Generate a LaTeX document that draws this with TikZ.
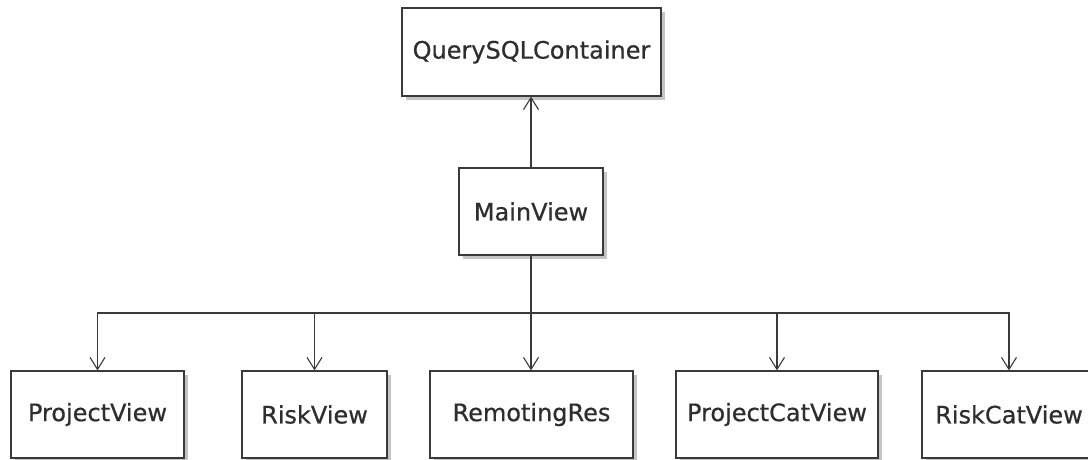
\documentclass[tikz,border=0pt]{standalone}
\usepackage{fontspec}
\setmainfont{DejaVu Sans}
\newfontfamily\clsfont[FakeBold=0.6]{DejaVu Sans}
\usetikzlibrary{arrows.meta,shadows}
\definecolor{ink}{HTML}{2E2E2E}
\definecolor{edge}{HTML}{3A3A3A}
\definecolor{shade}{HTML}{C4C4C4}
\tikzset{
  cls/.style={draw=edge, line width=1.2pt, fill=white, text=ink,
    font=\clsfont\fontsize{24}{28}\selectfont, minimum height=87pt, inner sep=0pt,
    drop shadow={shadow xshift=4pt, shadow yshift=-4pt, fill=shade, opacity=1}},
  link/.style={draw=edge, line width=1.1pt},
  arr/.style={link, -{Straight Barb[length=12pt,width=15pt,line width=1.1pt]}},
}
\begin{document}
\begin{tikzpicture}[x=1pt,y=-1pt]
\useasboundingbox (0,0) rectangle (1088,460);
\clip (0,0) rectangle (1088,460);
% classes
\node[cls, minimum width=259pt, minimum height=88pt] (qsc) at (531.5,52) {QuerySQLContainer};
\node[cls, minimum width=144pt] (main) at (531,211.5) {MainView};
\node[cls, minimum width=173pt] (pv)  at (97.5,414.5) {ProjectView};
\node[cls, minimum width=145pt] (rv)  at (314.5,414.5) {RiskView};
\node[cls, minimum width=203pt] (rr)  at (531.5,414.5) {RemotingRes};
\node[cls, minimum width=202pt] (pcv) at (777,414.5) {ProjectCatView};
\node[cls, minimum width=174pt] (rcv) at (1009,414.5) {RiskCatView};
% dependency of MainView on the container
\draw[arr] (main.north) -- (main.north |- qsc.south);
% fan-out bus below MainView
\coordinate (bus) at (531,313);
\draw[link] (main.south) -- (bus);
\draw[arr] (bus) -| (pv.north);
\draw[arr] (bus) -| (rv.north);
\draw[arr] (bus) -- (bus |- rr.north);
\draw[arr] (bus) -| (pcv.north);
\draw[arr] (bus) -| (rcv.north);
\end{tikzpicture}
\end{document}
